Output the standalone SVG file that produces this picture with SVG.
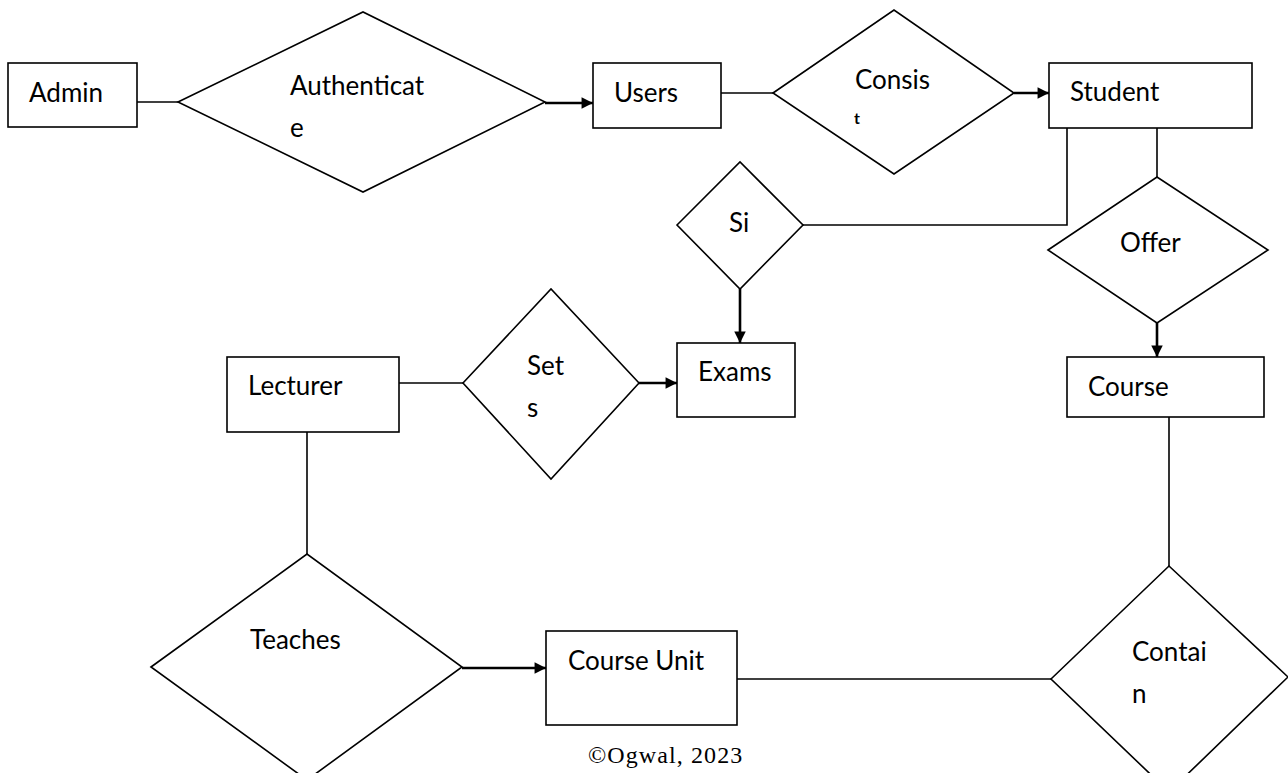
<svg xmlns="http://www.w3.org/2000/svg" width="1288" height="773" viewBox="0 0 1288 773">
<style>
.box{fill:#fff;stroke:#000;stroke-width:1.6}
.dia{fill:#fff;stroke:#000;stroke-width:1.6}
.t{font-family:Lato,"Open Sans",sans-serif;font-size:26px;fill:#000}
.ln{stroke:#000;stroke-width:1.6;fill:none}
.ar{stroke:#000;stroke-width:2.6;fill:none;marker-end:url(#ah)}
</style>
<defs>
<marker id="ah" viewBox="0 0 10 10" refX="10" refY="5" markerWidth="4.6" markerHeight="4.4" markerUnits="strokeWidth" orient="auto">
<path d="M0,0 L10,5 L0,10 z" fill="#000"/>
</marker>
<clipPath id="tc"><rect x="850" y="113" width="20" height="15"/></clipPath>
</defs>
<rect width="1288" height="773" fill="#fff"/>
<g id="connectors">
<line class="ln" x1="137" y1="102" x2="178" y2="102"/>
<line class="ar" x1="545" y1="103" x2="593" y2="103"/>
<line class="ln" x1="721" y1="93" x2="773" y2="93"/>
<line class="ar" x1="1014" y1="93" x2="1049" y2="93"/>
<polyline class="ln" points="1067,128 1067,225 803,225"/>
<line class="ln" x1="1157" y1="128" x2="1157" y2="177"/>
<line class="ar" x1="740" y1="289" x2="740" y2="343"/>
<line class="ar" x1="1157" y1="323" x2="1157" y2="357"/>
<line class="ln" x1="1169" y1="417" x2="1169" y2="566"/>
<line class="ln" x1="399" y1="383" x2="463" y2="383"/>
<line class="ar" x1="639" y1="383" x2="677" y2="383"/>
<line class="ln" x1="307" y1="432" x2="307" y2="554"/>
<line class="ar" x1="462" y1="668" x2="546" y2="668"/>
<line class="ln" x1="737" y1="679" x2="1051" y2="679"/>
</g>
<g id="admin"><rect class="box" x="8" y="63" width="129" height="64"/><text class="t" x="29" y="102">Admin</text></g>
<g id="authenticate"><polygon class="dia" points="178,102 363,12 545,102 363,192"/><text class="t" x="290" y="95">Authenticat</text><text class="t" x="290" y="137">e</text></g>
<g id="users"><rect class="box" x="593" y="63" width="128" height="65"/><text class="t" x="614" y="102">Users</text></g>
<g id="consist"><polygon class="dia" points="773,93 894,10 1014,93 894,174"/><text class="t" x="855" y="89">Consis</text><text class="t" x="854" y="124" clip-path="url(#tc)" style="font-size:16px;font-weight:bold">t</text></g>
<g id="student"><rect class="box" x="1049" y="63" width="203" height="65"/><text class="t" x="1070" y="101">Student</text></g>
<g id="si"><polygon class="dia" points="677,225 740,162 803,225 740,289"/><text class="t" x="729" y="232">Si</text></g>
<g id="offer"><polygon class="dia" points="1048,250 1157,177 1268,250 1157,323"/><text class="t" x="1120" y="252">Offer</text></g>
<g id="exams"><rect class="box" x="677" y="343" width="118" height="74"/><text class="t" x="698" y="381">Exams</text></g>
<g id="course"><rect class="box" x="1067" y="357" width="197" height="60"/><text class="t" x="1088" y="396">Course</text></g>
<g id="lecturer"><rect class="box" x="227" y="357" width="172" height="75"/><text class="t" x="248" y="395">Lecturer</text></g>
<g id="sets"><polygon class="dia" points="463,383 551,289 639,383 551,479"/><text class="t" x="527" y="375">Set</text><text class="t" x="527" y="417">s</text></g>
<g id="teaches"><polygon class="dia" points="151,667 307,554 462,667 307,780"/><text class="t" x="250" y="649">Teaches</text></g>
<g id="courseunit"><rect class="box" x="546" y="631" width="191" height="94"/><text class="t" x="568" y="670">Course Unit</text></g>
<g id="contain"><polygon class="dia" points="1051,679 1169,566 1288,677 1169,792"/><text class="t" x="1132" y="661">Contai</text><text class="t" x="1132" y="703">n</text></g>
<text x="588" y="763" style="font-family:'Liberation Serif',serif;font-size:24px;letter-spacing:1.1px">©Ogwal, 2023</text>
</svg>
